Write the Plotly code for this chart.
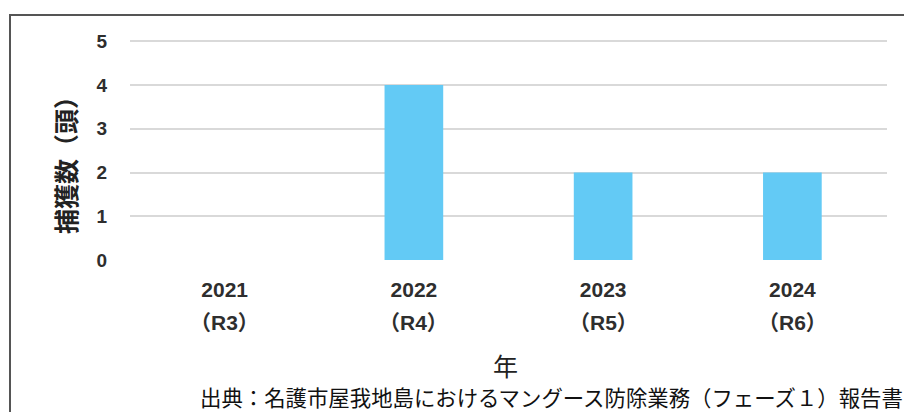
import plotly.graph_objects as go

# Mongoose captures per fiscal year
years = ["2021", "2022", "2023", "2024"]
reiwa = ["（R3）", "（R4）", "（R5）", "（R6）"]
captures = [0, 4, 2, 2]
y_ticks = [0, 1, 2, 3, 4, 5]
y_top = 5.1

W, H = 904, 412
L, R, T, B = 130, 17, 37, 152
PW, PH = W - L - R, H - T - B


def px_x(p):
    return (p - L) / PW


def px_y(p):
    return (H - B - p) / PH


CJK = "Noto Sans CJK JP"
LAT = "Liberation Sans, Noto Sans CJK JP"
TXT = "#2e2e2e"

fig = go.Figure(
    go.Bar(
        x=years,
        y=captures,
        marker=dict(color="#63CAF5", line=dict(width=0)),
        width=0.31,
        hoverinfo="skip",
    )
)

# Reiwa-era line under each year label, placed at the category index
annotations = [
    dict(x=i, y=px_y(322), xref="x", yref="paper", text=r, showarrow=False,
         font=dict(family=LAT, size=21, color=TXT, weight="bold"),
         xanchor="center", yanchor="middle")
    for i, r in enumerate(reiwa)
]
annotations += [
    dict(x=px_x(65), y=px_y(159), xref="paper", yref="paper", text="捕獲数（頭）",
         textangle=-90, showarrow=False,
         font=dict(family=CJK, size=25, color="#222222", weight="bold"),
         xanchor="center", yanchor="middle"),
    dict(x=px_x(505), y=px_y(365), xref="paper", yref="paper", text="年",
         showarrow=False, font=dict(family=CJK, size=25, color="#222222"),
         xanchor="center", yanchor="middle"),
    dict(x=px_x(905), y=px_y(396), xref="paper", yref="paper",
         text="出典：名護市屋我地島におけるマングース防除業務（フェーズ１）報告書",
         showarrow=False, font=dict(family=CJK, size=21.4, color="#111111"),
         xanchor="right", yanchor="middle"),
]

fig.update_layout(
    width=W,
    height=H,
    margin=dict(l=L, r=R, t=T, b=B, pad=0),
    paper_bgcolor="white",
    plot_bgcolor="white",
    showlegend=False,
    annotations=annotations,
    shapes=[
        dict(type="rect", xref="paper", yref="paper",
             x0=px_x(10), x1=px_x(915), y0=px_y(430), y1=px_y(15),
             line=dict(color="#555555", width=2), fillcolor="rgba(0,0,0,0)",
             layer="below"),
    ],
    xaxis=dict(
        type="category",
        categoryorder="array",
        categoryarray=years,
        range=[-0.5, len(years) - 0.5],
        tickmode="array",
        tickvals=years,
        ticktext=years,
        tickfont=dict(family=LAT, size=21, color=TXT, weight="bold"),
        showgrid=False,
        showline=False,
        ticks="",
        ticklabelstandoff=15,
        fixedrange=True,
    ),
    yaxis=dict(
        range=[0, y_top],
        tickmode="array",
        tickvals=y_ticks,
        ticktext=[str(v) for v in y_ticks],
        tickfont=dict(family=LAT, size=19, color=TXT, weight="bold"),
        showgrid=True,
        gridcolor="#d9d9d9",
        gridwidth=2,
        zeroline=False,
        showline=False,
        ticks="",
        ticklabelstandoff=22,
        fixedrange=True,
    ),
)

fig.write_html("out.html")
